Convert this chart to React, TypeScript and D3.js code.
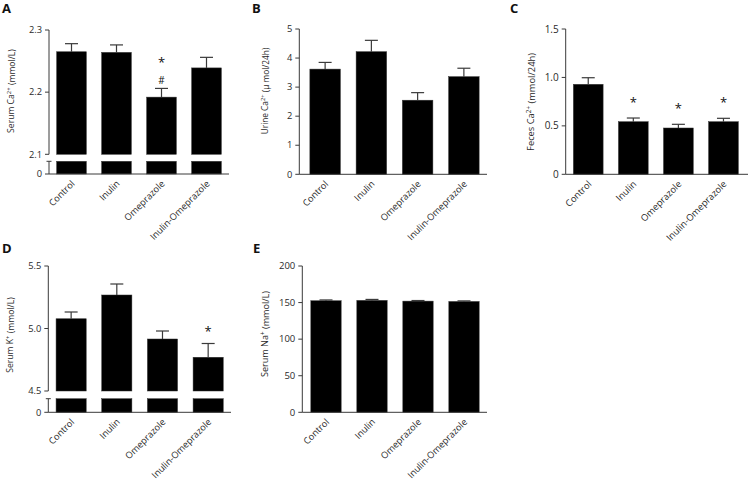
import React from "react";
import * as d3 from "d3";

const categories = ["Control", "Inulin", "Omeprazole", "Inulin-Omeprazole"];

const serumCaMean = [2.265, 2.264, 2.192, 2.239];
const serumCaSem = [0.013, 0.012, 0.014, 0.017];
const serumCaTicks = [2.1, 2.2, 2.3];
const serumCaMarks = [[], [], ["#", "*"], []];

const urineCaMean = [3.62, 4.22, 2.55, 3.36];
const urineCaSem = [0.23, 0.39, 0.26, 0.29];
const urineCaTicks = [0, 1, 2, 3, 4, 5];

const fecesCaMean = [0.929, 0.543, 0.478, 0.543];
const fecesCaSem = [0.068, 0.038, 0.038, 0.035];
const fecesCaTicks = [0, 0.5, 1.0, 1.5];
const fecesCaMarks = [[], ["*"], ["*"], ["*"]];

const serumKMean = [5.078, 5.268, 4.916, 4.77];
const serumKSem = [0.054, 0.088, 0.064, 0.11];
const serumKTicks = [4.5, 5.0, 5.5];
const serumKMarks = [[], [], [], ["*"]];

const serumNaMean = [152.5, 153.0, 152.0, 151.5];
const serumNaSem = [1.1, 1.3, 0.8, 0.8];
const serumNaTicks = [0, 50, 100, 150, 200];

const FONT = "'Open Sans', 'DejaVu Sans', sans-serif";
const AX = "#3a3a3a";
const TXT = "#2a2a2a";

type PanelProps = {
  letter: string;
  letterX: number;
  letterY: number;
  axisX: number;
  axisEnd: number;
  bandStart: number;
  bandEnd: number;
  top: number;
  upperBottom: number;
  lowerTop?: number;
  zeroY: number;
  domain: [number, number];
  ticks: number[];
  fmt: (v: number) => string;
  means: number[];
  sems: number[];
  marks?: string[][];
  markGap?: number;
  label: React.ReactNode;
  labelX: number;
  labelY: number;
  labelFs: number;
  tickFs: number;
  xFs: number;
};

function Panel(p: PanelProps) {
  const x = d3
    .scaleBand<string>()
    .domain(categories)
    .range([p.bandStart, p.bandEnd])
    .paddingInner(0.34)
    .paddingOuter(0.17);
  const y = d3.scaleLinear().domain(p.domain).range([p.upperBottom, p.top]);
  const hasBreak = p.lowerTop !== undefined;
  const bw = x.bandwidth();
  const capW = 13;
  return (
    <g>
      <text x={p.letterX} y={p.letterY} fontFamily={FONT} fontWeight="bold" fontSize={13} fill="#111">
        {p.letter}
      </text>
      {categories.map((c, i) => {
        const x0 = x(c)!;
        const yv = y(p.means[i]);
        const ye = y(p.means[i] + p.sems[i]);
        const cx = x0 + bw / 2;
        return (
          <g key={c}>
            <rect x={x0} y={yv} width={bw} height={p.upperBottom - yv} fill="#000" stroke="#333" strokeWidth={0.5} />
            {hasBreak && (
              <rect x={x0} y={p.lowerTop} width={bw} height={p.zeroY - p.lowerTop!} fill="#000" stroke="#333" strokeWidth={0.5} />
            )}
            <line x1={cx} x2={cx} y1={yv} y2={ye} stroke={AX} strokeWidth={1.2} />
            <line x1={cx - capW / 2} x2={cx + capW / 2} y1={ye} y2={ye} stroke={AX} strokeWidth={1.2} />
            {(p.marks?.[i] ?? []).map((m, k) => (
              <text
                key={k}
                x={cx}
                y={ye - (p.markGap ?? 12) - k * 13 + (m === "#" ? 4 : 0)}
                textAnchor="middle"
                fontFamily={FONT}
                fontSize={m === "#" ? 10 : 13}
                fill="#111"
              >
                {m}
              </text>
            ))}
          </g>
        );
      })}
      <line x1={p.axisX} x2={p.axisX} y1={p.top} y2={hasBreak ? p.upperBottom : p.zeroY} stroke={AX} strokeWidth={1} />
      {hasBreak && (
        <g>
          <line x1={p.axisX} x2={p.axisX} y1={p.lowerTop} y2={p.zeroY} stroke={AX} strokeWidth={1} />
          <line x1={p.axisX - 2.5} x2={p.axisX + 2.5} y1={p.lowerTop} y2={p.lowerTop} stroke={AX} strokeWidth={1} />
        </g>
      )}
      <line x1={p.axisX} x2={p.axisEnd} y1={p.zeroY} y2={p.zeroY} stroke={AX} strokeWidth={1} />
      {p.ticks.map((t) => (
        <g key={t}>
          <line x1={p.axisX - 4} x2={p.axisX} y1={y(t)} y2={y(t)} stroke={AX} strokeWidth={1} />
          <text x={p.axisX - 7} y={y(t)} dy="0.35em" textAnchor="end" fontFamily={FONT} fontSize={p.tickFs} fill={TXT}>
            {p.fmt(t)}
          </text>
        </g>
      ))}
      {hasBreak && (
        <g>
          <line x1={p.axisX - 4} x2={p.axisX} y1={p.zeroY} y2={p.zeroY} stroke={AX} strokeWidth={1} />
          <text x={p.axisX - 7} y={p.zeroY} dy="0.35em" textAnchor="end" fontFamily={FONT} fontSize={p.tickFs} fill={TXT}>
            0
          </text>
        </g>
      )}
      {categories.map((c) => {
        const cx = x(c)! + bw / 2;
        return (
          <text
            key={c}
            transform={`translate(${cx + 1.5},${p.zeroY + 8}) rotate(-45)`}
            textAnchor="end"
            dy="0.35em"
            fontFamily={FONT}
            fontSize={p.xFs}
            fill={TXT}
          >
            {c}
          </text>
        );
      })}
      <text
        transform={`translate(${p.labelX},${p.labelY}) rotate(-90)`}
        textAnchor="middle"
        fontFamily={FONT}
        fontSize={p.labelFs}
        fill={TXT}
      >
        {p.label}
      </text>
    </g>
  );
}

const sup = (s: string) => (
  <tspan fontSize="0.7em" dy="-0.45em">
    {s}
  </tspan>
);

export default function App() {
  return (
    <div style={{ position: "absolute", left: 0, top: 0 }}>
      <svg width={750} height={487} style={{ display: "block", background: "#fff" }}>
        <Panel
          letter="A"
          letterX={2}
          letterY={13}
          axisX={49}
          axisEnd={229}
          bandStart={49}
          bandEnd={229}
          top={30}
          upperBottom={154.3}
          lowerTop={161.3}
          zeroY={174}
          domain={[2.1, 2.3]}
          ticks={serumCaTicks}
          fmt={d3.format(".1f")}
          means={serumCaMean}
          sems={serumCaSem}
          marks={serumCaMarks}
          markGap={8}
          label={<>Serum Ca{sup("2+")}<tspan dy="0.45em"> (mmol/L)</tspan></>}
          labelX={14}
          labelY={91}
          labelFs={8.6}
          tickFs={9.3}
          xFs={9.2}
        />
        <Panel
          letter="B"
          letterX={252}
          letterY={13}
          axisX={299.3}
          axisEnd={487}
          bandStart={302}
          bandEnd={487}
          top={29}
          upperBottom={174.3}
          zeroY={174.3}
          domain={[0, 5]}
          ticks={urineCaTicks}
          fmt={d3.format("d")}
          means={urineCaMean}
          sems={urineCaSem}
          label={<>Urine Ca{sup("2+")}<tspan dy="0.45em">  (μ mol/24h)</tspan></>}
          labelX={268}
          labelY={91}
          labelFs={8.3}
          tickFs={9.3}
          xFs={9.2}
        />
        <Panel
          letter="C"
          letterX={510}
          letterY={13}
          axisX={565.7}
          axisEnd={748}
          bandStart={565.7}
          bandEnd={746}
          top={29}
          upperBottom={174.3}
          zeroY={174.3}
          domain={[0, 1.5]}
          ticks={fecesCaTicks}
          fmt={(v) => (v === 0 ? "0" : d3.format(".1f")(v))}
          means={fecesCaMean}
          sems={fecesCaSem}
          marks={fecesCaMarks}
          markGap={11}
          label={<>Feces Ca{sup("2+")}<tspan dy="0.45em"> (mmol/24h)</tspan></>}
          labelX={534}
          labelY={102}
          labelFs={9.3}
          tickFs={10}
          xFs={9.3}
        />
        <Panel
          letter="D"
          letterX={2}
          letterY={253}
          axisX={48.3}
          axisEnd={231}
          bandStart={48.3}
          bandEnd={231}
          top={266}
          upperBottom={391}
          lowerTop={398.7}
          zeroY={412.3}
          domain={[4.5, 5.5]}
          ticks={serumKTicks}
          fmt={d3.format(".1f")}
          means={serumKMean}
          sems={serumKSem}
          marks={serumKMarks}
          markGap={8}
          label={<>Serum K{sup("+")}<tspan dy="0.45em"> (mmol/L)</tspan></>}
          labelX={13}
          labelY={335}
          labelFs={8.6}
          tickFs={9.3}
          xFs={9.2}
        />
        <Panel
          letter="E"
          letterX={253}
          letterY={253}
          axisX={302.3}
          axisEnd={487}
          bandStart={303}
          bandEnd={487}
          top={266}
          upperBottom={412.3}
          zeroY={412.3}
          domain={[0, 200]}
          ticks={serumNaTicks}
          fmt={d3.format("d")}
          means={serumNaMean}
          sems={serumNaSem}
          label={<>Serum Na{sup("+")}<tspan dy="0.45em"> (mmol/L)</tspan></>}
          labelX={268}
          labelY={334}
          labelFs={9.1}
          tickFs={9.5}
          xFs={9.2}
        />
      </svg>
    </div>
  );
}
